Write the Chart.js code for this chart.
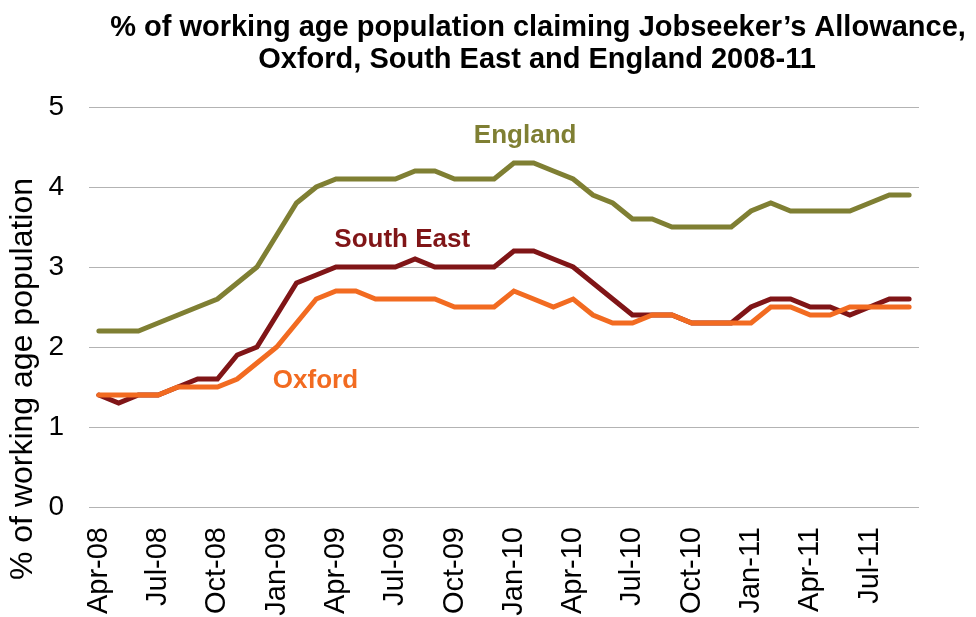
<!DOCTYPE html>
<html>
<head>
<meta charset="utf-8">
<script src="https://cdn.jsdelivr.net/npm/chart.js@4/dist/chart.umd.min.js"></script>
<style>
  html, body { margin: 0; padding: 0; background: #fff; }
  #wrap { width: 976px; height: 617px; }
</style>
</head>
<body>
<div id="wrap"><canvas id="jsa-chart"></canvas></div>
<script>
const months = [
  'Apr-08', 'May-08', 'Jun-08', 'Jul-08', 'Aug-08', 'Sep-08', 'Oct-08', 'Nov-08', 'Dec-08',
  'Jan-09', 'Feb-09', 'Mar-09', 'Apr-09', 'May-09', 'Jun-09', 'Jul-09', 'Aug-09', 'Sep-09',
  'Oct-09', 'Nov-09', 'Dec-09', 'Jan-10', 'Feb-10', 'Mar-10', 'Apr-10', 'May-10', 'Jun-10',
  'Jul-10', 'Aug-10', 'Sep-10', 'Oct-10', 'Nov-10', 'Dec-10', 'Jan-11', 'Feb-11', 'Mar-11',
  'Apr-11', 'May-11', 'Jun-11', 'Jul-11', 'Aug-11', 'Sep-11',
];
const tickLabels = [
  'Apr-08', 'Jul-08', 'Oct-08', 'Jan-09', 'Apr-09', 'Jul-09', 'Oct-09',
  'Jan-10', 'Apr-10', 'Jul-10', 'Oct-10', 'Jan-11', 'Apr-11', 'Jul-11',
];
const england = [
  2.2, 2.2, 2.2, 2.3, 2.4, 2.5, 2.6, 2.8, 3.0, 3.4, 3.8, 4.0, 4.1, 4.1,
  4.1, 4.1, 4.2, 4.2, 4.1, 4.1, 4.1, 4.3, 4.3, 4.2, 4.1, 3.9, 3.8, 3.6,
  3.6, 3.5, 3.5, 3.5, 3.5, 3.7, 3.8, 3.7, 3.7, 3.7, 3.7, 3.8, 3.9, 3.9,
];
const southEast = [
  1.4, 1.3, 1.4, 1.4, 1.5, 1.6, 1.6, 1.9, 2.0, 2.4, 2.8, 2.9, 3.0, 3.0,
  3.0, 3.0, 3.1, 3.0, 3.0, 3.0, 3.0, 3.2, 3.2, 3.1, 3.0, 2.8, 2.6, 2.4,
  2.4, 2.4, 2.3, 2.3, 2.3, 2.5, 2.6, 2.6, 2.5, 2.5, 2.4, 2.5, 2.6, 2.6,
];
const oxford = [
  1.4, 1.4, 1.4, 1.4, 1.5, 1.5, 1.5, 1.6, 1.8, 2.0, 2.3, 2.6, 2.7, 2.7,
  2.6, 2.6, 2.6, 2.6, 2.5, 2.5, 2.5, 2.7, 2.6, 2.5, 2.6, 2.4, 2.3, 2.3,
  2.4, 2.4, 2.3, 2.3, 2.3, 2.3, 2.5, 2.5, 2.4, 2.4, 2.5, 2.5, 2.5, 2.5,
];
// series name labels placed in data space: [text, category index, value at baseline]
const seriesLabels = [
  ['England', 21.57, 4.55],
  ['South East', 15.35, 3.255],
  ['Oxford', 10.96, 1.49],
];

const FONT = "'Liberation Sans', Arial, sans-serif";
const colors = { england: '#7f7f33', southEast: '#801517', oxford: '#f26b21' };

// title, y axis title and the in-chart series names
const textPlugin = {
  id: 'texts',
  afterDraw(chart) {
    const c = chart.ctx;
    const x = chart.scales.x;
    const y = chart.scales.y;
    c.save();
    c.fillStyle = '#000';
    c.textAlign = 'center';
    c.textBaseline = 'alphabetic';
    c.font = 'bold 29px ' + FONT;
    c.fillText('% of working age population claiming Jobseeker\u2019s Allowance,', 538, 36);
    c.fillText('Oxford, South East and England 2008-11', 537, 68);

    c.save();
    c.translate(23, 379);
    c.rotate(-Math.PI / 2);
    c.font = '32px ' + FONT;
    c.textBaseline = 'middle';
    c.fillText('% of working age population', 0, 0);
    c.restore();

    const labelColors = [colors.england, colors.southEast, colors.oxford];
    c.font = 'bold 26px ' + FONT;
    seriesLabels.forEach(([text, idx, val], i) => {
      c.fillStyle = labelColors[i];
      c.fillText(text, x.getPixelForValue(idx), y.getPixelForValue(val));
    });
    c.restore();
  },
};

function lineSet(label, data, color, order) {
  return {
    label: label,
    data: data,
    borderColor: color,
    backgroundColor: color,
    borderWidth: 5,
    borderCapStyle: 'round',
    pointRadius: 0,
    tension: 0,
    fill: false,
    order: order,
  };
}

const ctx = document.getElementById('jsa-chart').getContext('2d');
new Chart(ctx, {
  type: 'line',
  data: {
    labels: months,
    datasets: [
      lineSet('England', england, colors.england, 3),
      lineSet('South East', southEast, colors.southEast, 2),
      lineSet('Oxford', oxford, colors.oxford, 1),
    ],
  },
  options: {
    responsive: true,
    maintainAspectRatio: false,
    animation: false,
    layout: { padding: { top: 107, right: 57, left: 0, bottom: 0 } },
    plugins: {
      legend: { display: false },
      tooltip: { enabled: false },
      title: { display: false },
    },
    scales: {
      x: {
        offset: true,
        grid: { display: false, drawTicks: false },
        border: { display: false },
        afterFit: (scale) => { scale.height = 110; },
        ticks: {
          autoSkip: false,
          minRotation: 90,
          maxRotation: 90,
          padding: 20,
          color: '#000',
          font: { family: FONT, size: 29 },
          callback: function (value, index) {
            const m = months[index];
            return tickLabels.includes(m) ? m : '';
          },
        },
      },
      y: {
        min: 0,
        max: 5,
        grid: { color: '#b3b3b3', lineWidth: 1, drawTicks: false },
        border: { display: false },
        afterFit: (scale) => { scale.width = 89; },
        ticks: {
          stepSize: 1,
          padding: 25,
          color: '#000',
          font: { family: FONT, size: 28 },
        },
      },
    },
  },
  plugins: [textPlugin],
});
</script>
</body>
</html>
